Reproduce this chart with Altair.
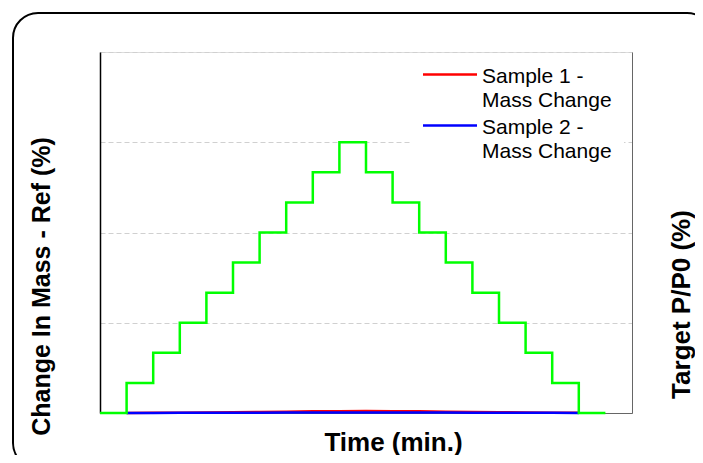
import altair as alt
import pandas as pd

# Target P/P0 step profile (time in minutes, level in %)
step_times = [0, 60, 120, 180, 240, 300, 360, 420, 480, 540, 600, 660, 720, 780,
              840, 900, 960, 1020, 1080, 1140]
target_pp0 = [0, 10, 20, 30, 40, 50, 60, 70, 80, 90, 80, 70, 60, 50, 40, 30, 20, 10, 0, 0]

# Mass change of the two samples (%)
mass_times = [60, 120, 180, 240, 300, 360, 420, 480, 540, 600, 660, 720, 780, 840,
              900, 960, 1020, 1080]
sample1 = [0.00, 0.005, 0.01, 0.015, 0.025, 0.035, 0.045, 0.055, 0.06, 0.065, 0.06,
           0.055, 0.045, 0.035, 0.025, 0.015, 0.01, 0.005]
sample2 = [0.00, 0.002, 0.005, 0.008, 0.01, 0.012, 0.015, 0.018, 0.02, 0.02, 0.02,
           0.018, 0.015, 0.012, 0.01, 0.008, 0.005, 0.002]
series_names = ["Sample 1 - Mass Change", "Sample 2 - Mass Change"]
series_colors = ["#ff0000", "#0000ff"]

FONT = "Liberation Sans"

step_df = pd.DataFrame({"time": step_times, "pp0": target_pp0})
mass_df = pd.concat([
    pd.DataFrame({"time": mass_times, "mass": sample1, "series": series_names[0]}),
    pd.DataFrame({"time": mass_times, "mass": sample2, "series": series_names[1]}),
])

x_scale = alt.Scale(domain=[0, 1200], nice=False, zero=False)

mass = alt.Chart(mass_df).mark_line(strokeWidth=2.5).encode(
    x=alt.X("time:Q", scale=x_scale,
            axis=alt.Axis(title="Time (min.)", labels=False, ticks=False, grid=False,
                          domainColor="#666666", domainWidth=1,
                          titleFont=FONT, titleFontSize=26, titleFontWeight="bold",
                          titleColor="black", titleX=293, titleY=37,
                          titleAlign="center", titleBaseline="alphabetic")),
    y=alt.Y("mass:Q", scale=alt.Scale(domain=[0, 12], nice=False),
            axis=alt.Axis(title="Change In Mass - Ref (%)", values=[0, 3, 6, 9, 12],
                          labels=False, ticks=False, grid=True, gridDash=[5, 3],
                          gridColor="#d0d0d0", gridWidth=1,
                          domainColor="black", domainWidth=1.5,
                          titleFont=FONT, titleFontSize=25, titleFontWeight="bold",
                          titleColor="black", titleAngle=270, titleX=-51, titleY=234,
                          titleAlign="center", titleBaseline="alphabetic")),
    color=alt.Color("series:N",
                    scale=alt.Scale(domain=series_names, range=series_colors),
                    legend=alt.Legend(title=None, orient="none", legendX=311, legendY=2,
                                      padding=12, fillColor="white",
                                      symbolType="M-5.4,-0.4L5.4,-0.4", symbolSize=100,
                                      symbolStrokeWidth=2.5, symbolOffset=16.5,
                                      symbolFillColor="transparent",
                                      labelOffset=21.5,
                                      labelFont=FONT, labelFontSize=21,
                                      labelLimit=400,
                                      labelColor="black", rowPadding=5,
                                      labelExpr="[slice(datum.label, 0, 10), slice(datum.label, 11) + '\\u00a0\\u00a0\\u00a0']")),
)

green = alt.Chart(step_df).mark_line(interpolate="step-after", color="#00ff00",
                                     strokeWidth=2.5).encode(
    x=alt.X("time:Q", scale=x_scale),
    y=alt.Y("pp0:Q", scale=alt.Scale(domain=[0, 120], nice=False),
            axis=alt.Axis(orient="right", title="Target P/P0 (%)", labels=False,
                          ticks=False, grid=False, domainColor="#666666", domainWidth=1,
                          titleFont=FONT, titleFontSize=26, titleFontWeight="bold",
                          titleColor="black", titleAngle=270, titleX=57, titleY=252,
                          titleAlign="center", titleBaseline="alphabetic")),
)

frame = alt.Chart(pd.DataFrame({"k": [0]})).mark_rect(
    fill="transparent", stroke="black", strokeWidth=2, cornerRadius=25
).encode(
    x=alt.value(-87), x2=alt.value(612), y=alt.value(-39), y2=alt.value(416)
)

chart = alt.layer(frame, mass, green).resolve_scale(y="independent").properties(
    width=532, height=361,
    autosize=alt.AutoSizeParams(type="none"),
    padding={"left": 92, "top": 44, "right": 63, "bottom": 42},
).configure_view(stroke="#666666", strokeWidth=1).configure(
    background="white", style={"guide-label": {"lineHeight": 24}}
)

chart.save("out.html", embed_options={"renderer": "svg", "actions": False})
